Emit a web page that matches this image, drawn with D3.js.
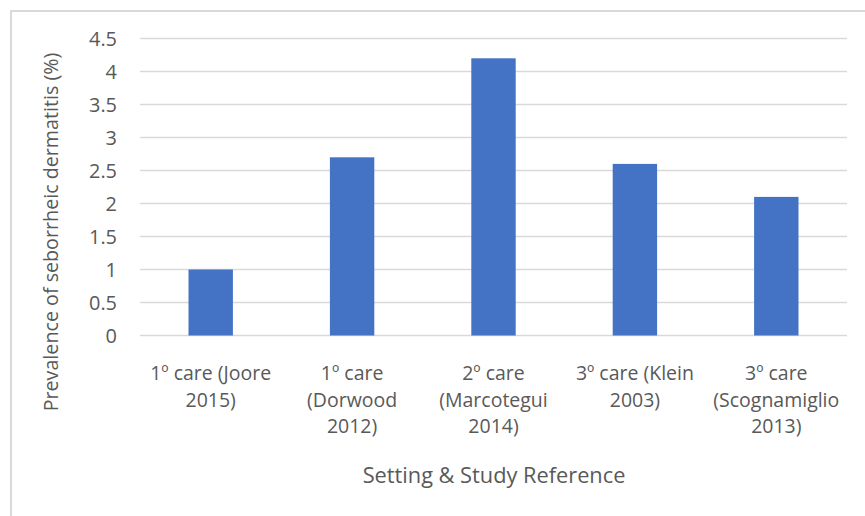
<!DOCTYPE html>
<html><head><meta charset="utf-8">
<script src="https://cdn.jsdelivr.net/npm/d3@7"></script>
<style>body{margin:0;background:#fff}svg{display:block}text{font-family:"Open Sans", sans-serif;fill:#595959}</style>
</head><body><svg id="c" width="865" height="516"></svg>
<script>
const categories = [
  ["1º care (Joore", "2015)"],
  ["1º care", "(Dorwood", "2012)"],
  ["2º care", "(Marcotegui", "2014)"],
  ["3º care (Klein", "2003)"],
  ["3º care", "(Scognamiglio", "2013)"]
];
const values = [1, 2.7, 4.2, 2.6, 2.1];
const yTicks = [0, 0.5, 1, 1.5, 2, 2.5, 3, 3.5, 4, 4.5];
const yTitle = "Prevalence of seborrheic dermatitis (%)";
const xTitle = "Setting & Study Reference";

const svg = d3.select("#c");
svg.append("rect").attr("x", 11).attr("y", 11).attr("width", 870).attr("height", 520)
  .attr("fill", "none").attr("stroke", "#d9d9d9").attr("stroke-width", 2);

// font size that makes a sample string a given width
function fit(str, width) {
  const t = svg.append("text").attr("font-size", 20).text(str);
  const w = t.node().getComputedTextLength();
  t.remove();
  return 20 * width / w;
}
const tickFs = fit("4.5", 28);
const catFs = fit("(Scognamiglio", 126);
const xtFs = fit(xTitle, 263);
const ytFs = fit(yTitle, 359);

const x = d3.scaleBand().domain(d3.range(categories.length)).range([140, 847]).paddingInner(0.686).paddingOuter(0.343);
const y = d3.scaleLinear().domain([0, 4.5]).range([335.5, 38.5]);

const g = svg.append("g");
g.selectAll("line.grid").data(yTicks).join("line").attr("class", "grid")
  .attr("x1", 140).attr("x2", 847).attr("y1", d => y(d)).attr("y2", d => y(d))
  .attr("stroke", "#d9d9d9").attr("stroke-width", 1.3);

g.selectAll("rect.bar").data(values).join("rect").attr("class", "bar")
  .attr("x", (d, i) => x(i)).attr("width", x.bandwidth())
  .attr("y", d => y(d)).attr("height", d => y(0) - y(d)).attr("fill", "#4472c4");

const yAxis = d3.axisLeft(y).tickValues(yTicks).tickSize(0).tickPadding(0).tickFormat(d3.format("~g"));
const ya = svg.append("g").attr("transform", "translate(117,0)").call(yAxis);
ya.select(".domain").remove();
ya.selectAll("text").attr("font-size", tickFs).attr("dy", "0.37em").style("font-family", "Open Sans").attr("fill", "#595959");

const xa = svg.append("g");
xa.selectAll("text.cat").data(categories).join("text").attr("class", "cat")
  .attr("text-anchor", "middle").attr("font-size", catFs)
  .attr("x", (d, i) => x(i) + x.bandwidth() / 2)
  .each(function(lines) {
    d3.select(this).selectAll("tspan").data(lines).join("tspan")
      .attr("x", d3.select(this).attr("x"))
      .attr("y", (l, j) => 380 + j * 26.5).text(l => l);
  });

svg.append("text").attr("x", 494).attr("y", 483).attr("text-anchor", "middle")
  .attr("font-size", xtFs).text(xTitle);
svg.append("text").attr("transform", "translate(57.5,232) rotate(-90)").attr("text-anchor", "middle")
  .attr("font-size", ytFs).text(yTitle);
</script></body></html>
